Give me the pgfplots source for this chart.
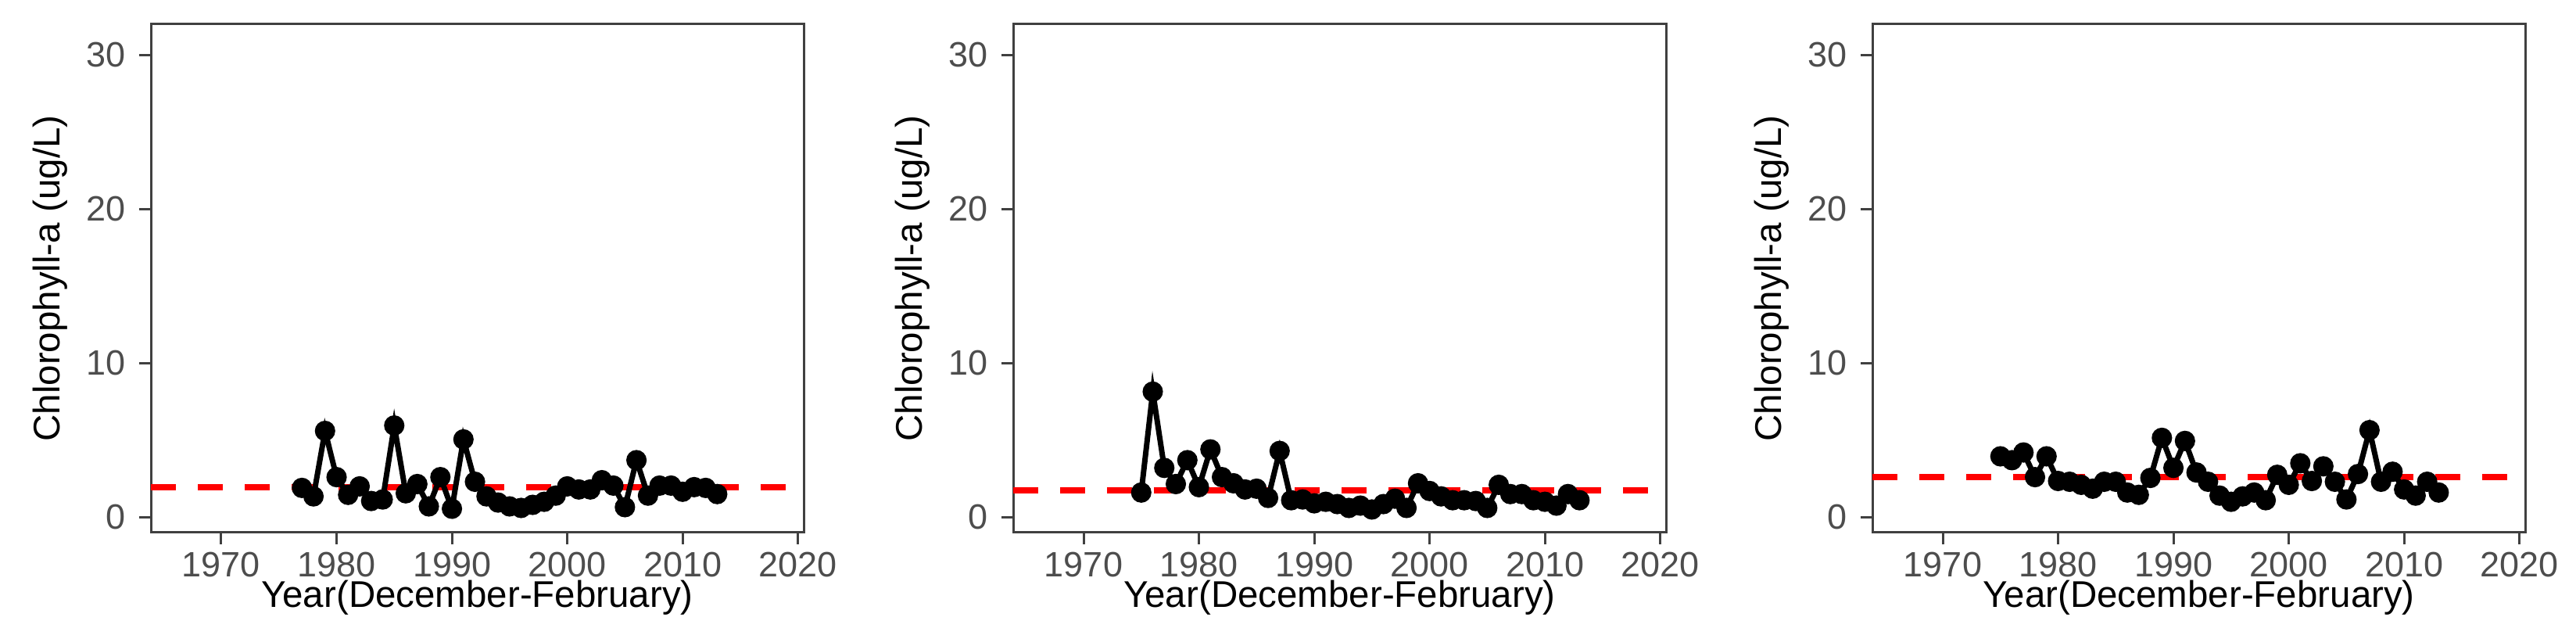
\documentclass[border=0pt]{standalone}
\usepackage{pgfplots}
\pgfplotsset{compat=1.18}
\usepackage{fontspec}
\setmainfont{Liberation Sans}
\definecolor{tk}{HTML}{4D4D4D}
\pgfplotsset{
  panel/.style={
    scale only axis, width=167pt, height=130pt,
    xmin=1963.9, xmax=2020.5, ymin=-1, ymax=32,
    xtick={1970,1980,...,2020}, ytick={0,10,20,30},
    /pgf/number format/set thousands separator={},
    /pgf/number format/assume math mode=true,
    tick align=outside, tick pos=left,
    major tick length=3pt,
    axis line style={draw=black!75, line width=0.6pt},
    every tick/.style={draw=black!75, line width=0.6pt},
    ticklabel style={font=\fontsize{9}{10}\selectfont, text=tk},
    xticklabel style={yshift=1.5pt},
    label style={font=\fontsize{9.5}{11}\selectfont},
    xlabel={Year(December-February)},
    ylabel={Chlorophyll-a (ug/L)},
    xlabel style={yshift=6pt},
    ylabel style={yshift=-2pt},
    clip=true,
  },
  ser/.style={black, line width=1.4pt, mark=*, mark size=1.9pt},
  mean/.style={red, line width=1.5pt, dash pattern=on 6.4pt off 5.6pt},
}
\begin{document}
\begin{tikzpicture}
\path[use as bounding box] (0,0) rectangle (659pt,160.6pt);
\begin{axis}[panel, at={(38.6pt,24.4pt)}, anchor=south west]
\addplot[mean] coordinates {(1963.9,1.95) (2025,1.95)};
\addplot[ser] coordinates {
(1977,1.9)(1978,1.35)(1979,5.6)(1980,2.6)(1981,1.45)(1982,2.0)(1983,1.05)(1984,1.15)
(1985,5.95)(1986,1.55)(1987,2.15)(1988,0.7)(1989,2.6)(1990,0.55)(1991,5.05)(1992,2.3)
(1993,1.35)(1994,0.95)(1995,0.7)(1996,0.6)(1997,0.8)(1998,1.0)(1999,1.4)(2000,2.0)
(2001,1.8)(2002,1.8)(2003,2.4)(2004,2.05)(2005,0.65)(2006,3.7)(2007,1.4)(2008,2.05)
(2009,2.05)(2010,1.65)(2011,1.95)(2012,1.9)(2013,1.5)};
\end{axis}
\begin{axis}[panel, at={(259.2pt,24.4pt)}, anchor=south west]
\addplot[mean] coordinates {(1963.9,1.73) (2025,1.73)};
\addplot[ser] coordinates {
(1975,1.6)(1976,8.15)(1977,3.2)(1978,2.15)(1979,3.7)(1980,1.95)(1981,4.4)(1982,2.6)
(1983,2.2)(1984,1.8)(1985,1.85)(1986,1.25)(1987,4.3)(1988,1.1)(1989,1.15)(1990,0.9)
(1991,1.0)(1992,0.85)(1993,0.6)(1994,0.75)(1995,0.5)(1996,0.85)(1997,1.2)(1998,0.6)
(1999,2.2)(2000,1.7)(2001,1.35)(2002,1.1)(2003,1.1)(2004,1.05)(2005,0.6)(2006,2.1)
(2007,1.5)(2008,1.5)(2009,1.1)(2010,1.0)(2011,0.75)(2012,1.5)(2013,1.1)};
\end{axis}
\begin{axis}[panel, at={(479pt,24.4pt)}, anchor=south west]
\addplot[mean] coordinates {(1963.9,2.6) (2025,2.6)};
\addplot[ser] coordinates {
(1975,3.95)(1976,3.7)(1977,4.2)(1978,2.6)(1979,3.95)(1980,2.35)(1981,2.3)(1982,2.1)
(1983,1.85)(1984,2.3)(1985,2.3)(1986,1.6)(1987,1.45)(1988,2.55)(1989,5.15)(1990,3.2)
(1991,4.95)(1992,2.9)(1993,2.3)(1994,1.4)(1995,1.0)(1996,1.35)(1997,1.6)(1998,1.1)
(1999,2.75)(2000,2.1)(2001,3.5)(2002,2.35)(2003,3.3)(2004,2.3)(2005,1.15)(2006,2.8)
(2007,5.65)(2008,2.3)(2009,2.95)(2010,1.8)(2011,1.4)(2012,2.3)(2013,1.6)};
\end{axis}
\end{tikzpicture}
\end{document}
